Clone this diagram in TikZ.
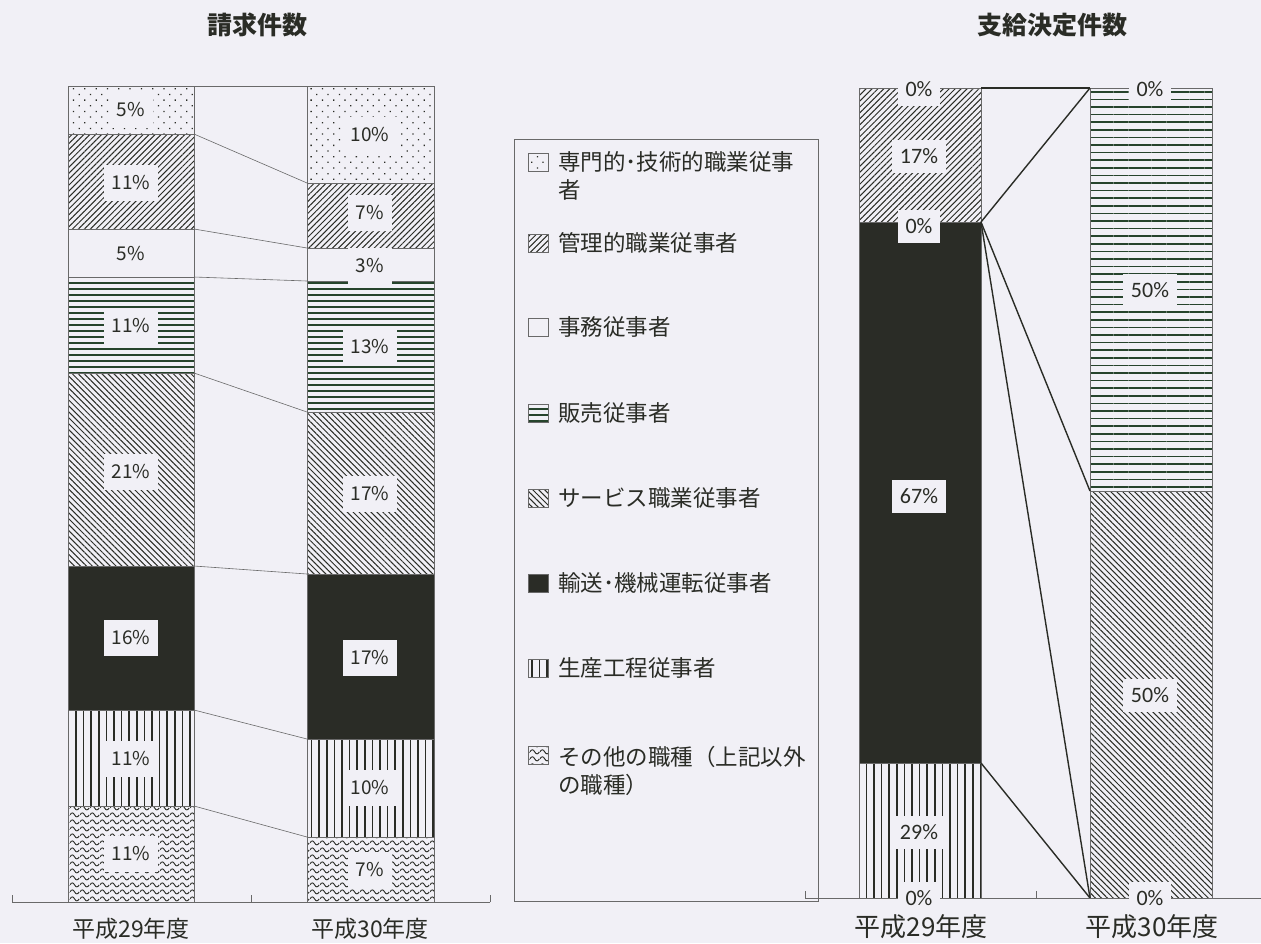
\documentclass[tikz,border=0pt]{standalone}
\usepackage{fontspec}
\setmainfont{Noto Sans CJK JP}
\newfontfamily\calib{Carlito}
\usepackage{xcolor}
\usepackage{tikz}
\usetikzlibrary{patterns, patterns.meta}

\definecolor{bgc}{RGB}{241,240,246}
\definecolor{ink}{RGB}{42,44,38}
\definecolor{hink}{RGB}{38,68,44}
\definecolor{rim}{RGB}{105,105,105}

% wavy fill for the last group
\pgfdeclarepatternformonly{waves}{\pgfqpoint{0pt}{0pt}}{\pgfqpoint{10pt}{7pt}}{\pgfqpoint{10pt}{7pt}}{%
  \pgfsetlinewidth{1pt}%
  \pgfpathmoveto{\pgfqpoint{0pt}{3.5pt}}%
  \pgfpathcurveto{\pgfqpoint{1.67pt}{6.5pt}}{\pgfqpoint{3.33pt}{6.5pt}}{\pgfqpoint{5pt}{3.5pt}}%
  \pgfpathcurveto{\pgfqpoint{6.67pt}{0.5pt}}{\pgfqpoint{8.33pt}{0.5pt}}{\pgfqpoint{10pt}{3.5pt}}%
  \pgfusepath{stroke}%
}

\tikzset{
  seg/.style={draw=rim, line width=0.8pt},
  dotfill/.style={pattern={Dots[radius=0.9pt, distance=8pt, angle=45]}, pattern color=ink},
  nefill/.style={pattern={Lines[angle=45, distance=4.2pt, line width=1pt]}, pattern color=ink},
  nwfill/.style={pattern={Lines[angle=-45, distance=4.2pt, line width=1pt]}, pattern color=ink},
  hfill/.style={pattern={Lines[angle=0, distance=6pt, line width=1.5pt]}, pattern color=hink},
  hfillr/.style={pattern={Lines[angle=0, distance=7.6pt, line width=1.6pt]}, pattern color=hink},
  vfill/.style={pattern={Lines[angle=90, distance=7.6pt, line width=1.6pt]}, pattern color=ink},
  wavefill/.style={pattern=waves, pattern color=ink},
  link/.style={draw=rim, line width=0.6pt},
  linkr/.style={draw=ink, line width=1.4pt},
  pct/.style={fill=bgc, text=ink, font=\fontsize{19}{19}\selectfont, minimum height=36pt, inner xsep=8pt, inner ysep=0pt},
  pctr/.style={fill=bgc, text=ink, font=\calib\fontsize{22}{22}\selectfont, minimum height=33pt, inner xsep=8pt, inner ysep=0pt},
  legtext/.style={anchor=west, inner sep=0pt, text=ink, align=left, font=\fontsize{22.5}{28}\selectfont},
  swatch/.style={seg, line width=0.6pt},
  title/.style={text=ink, font=\bfseries\fontsize{25}{25}\selectfont},
  year/.style={text=ink, font=\fontsize{23}{23}\selectfont},
  yearr/.style={text=ink, font=\fontsize{26}{26}\selectfont},
}

\begin{document}
\begin{tikzpicture}[x=1pt, y=-1pt]
  \fill[bgc] (0,0) rectangle (1261,943);
  \useasboundingbox (0,0) rectangle (1261,943);

  % Titles
  \node[title] (tclaim) at (257,25) {請求件数};
  \node[title] (tpaid) at (1052,25) {支給決定件数};

  % Claims, H29 bar
  \draw[seg, dotfill] (68,86) rectangle (194,134);
  \draw[seg, nefill] (68,134) rectangle (194,229);
  \draw[seg] (68,229) rectangle (194,277);
  \draw[seg, hfill] (68,277) rectangle (194,373);
  \draw[seg, nwfill] (68,373) rectangle (194,566);
  \draw[seg, fill=ink] (68,566) rectangle (194,710);
  \draw[seg, vfill] (68,710) rectangle (194,806);
  \draw[seg, wavefill] (68,806) rectangle (194,902);

  % Claims, H30 bar
  \draw[seg, dotfill] (307,86) rectangle (434,183);
  \draw[seg, nefill] (307,183) rectangle (434,248);
  \draw[seg] (307,248) rectangle (434,281);
  \draw[seg, hfill] (307,281) rectangle (434,412);
  \draw[seg, nwfill] (307,412) rectangle (434,574);
  \draw[seg, fill=ink] (307,574) rectangle (434,739);
  \draw[seg, vfill] (307,739) rectangle (434,837);
  \draw[seg, wavefill] (307,837) rectangle (434,902);

  % Claims, links between bars
  \foreach \ya/\yb [count=\i] in {86/86, 134/183, 229/248, 277/281, 373/412, 566/574, 710/739, 806/837} {
    \coordinate (ca\i) at (194,\ya);
    \coordinate (cb\i) at (307,\yb);
    \draw[link] (ca\i) -- (cb\i);
  }

  % Claims, axis
  \coordinate (cx0) at (12,902);
  \coordinate (cx1) at (251,902);
  \coordinate (cx2) at (490,902);
  \draw[link] (cx0) -- (cx2);
  \draw[link] (cx0) -- ++(0,-7);
  \draw[link] (cx1) -- ++(0,-7);
  \draw[link] (cx2) -- ++(0,-7);

  % Claims, labels
  \node[pct] (ca1l) at (131,110) {5\%};
  \node[pct] (ca2l) at (131,183) {11\%};
  \node[pct] (ca3l) at (131,254) {5\%};
  \node[pct] (ca4l) at (131,326) {11\%};
  \node[pct] (ca5l) at (131,472) {21\%};
  \node[pct] (ca6l) at (131,638) {16\%};
  \node[pct] (ca7l) at (131,759) {11\%};
  \node[pct] (ca8l) at (131,854) {11\%};
  \node[pct] (cb1l) at (370,135) {10\%};
  \node[pct] (cb2l) at (370,213) {7\%};
  \node[pct] (cb3l) at (370,266) {3\%};
  \node[pct] (cb4l) at (370,347) {13\%};
  \node[pct] (cb5l) at (370,494) {17\%};
  \node[pct] (cb6l) at (370,658) {17\%};
  \node[pct] (cb7l) at (370,788) {10\%};
  \node[pct] (cb8l) at (370,870) {7\%};
  \node[year] (cy29) at (131,929) {平成29年度};
  \node[year] (cy30) at (370,929) {平成30年度};

  % Legend
  \draw[seg, line width=0.6pt] (514,139) rectangle (818,901);
  \draw[swatch, dotfill] (528,153) rectangle (548,171);
  \draw[swatch, nefill] (528,234) rectangle (548,252);
  \draw[swatch] (528,318) rectangle (548,336);
  \draw[swatch, hfill] (528,404) rectangle (548,422);
  \draw[swatch, nwfill] (528,489) rectangle (548,507);
  \draw[swatch, fill=ink] (528,574) rectangle (548,592);
  \draw[swatch, vfill] (528,659) rectangle (548,677);
  \draw[swatch, wavefill] (528,746) rectangle (548,764);
  \node[legtext] (lg1) at (558,176) {専門的･技術的職業従事\\者};
  \node[legtext] (lg2) at (558,243) {管理的職業従事者};
  \node[legtext] (lg3) at (558,327) {事務従事者};
  \node[legtext] (lg4) at (558,413) {販売従事者};
  \node[legtext] (lg5) at (558,498) {サービス職業従事者};
  \node[legtext] (lg6) at (558,583) {輸送･機械運転従事者};
  \node[legtext] (lg7) at (558,668) {生産工程従事者};
  \node[legtext] (lg8) at (558,771) {その他の職種（上記以外\\の職種）};

  % Decisions, H29 bar
  \draw[seg, nefill] (859,88) rectangle (981,222);
  \draw[seg, fill=ink] (859,222) rectangle (981,763);
  \draw[seg, vfill] (859,763) rectangle (981,898);

  % Decisions, H30 bar
  \draw[seg, hfillr] (1090,88) rectangle (1212,491);
  \draw[seg, nwfill] (1090,491) rectangle (1212,898);

  % Decisions, links between bars
  \coordinate (da1) at (981,88);
  \coordinate (da2) at (981,222);
  \coordinate (da3) at (981,763);
  \coordinate (db1) at (1090,88);
  \coordinate (db2) at (1090,491);
  \coordinate (db3) at (1090,898);
  \draw[linkr] (da1) -- (db1);
  \draw[linkr] (da2) -- (db1);
  \draw[linkr] (da2) -- (db2);
  \draw[linkr] (da2) -- (db3);
  \draw[linkr] (da3) -- (db3);

  % Decisions, axis
  \coordinate (dx0) at (805,898);
  \coordinate (dx1) at (1036,898);
  \coordinate (dx2) at (1261,898);
  \draw[link, line width=1pt] (dx0) -- (dx2);
  \draw[link] (dx0) -- ++(0,-7);
  \draw[link] (dx1) -- ++(0,-7);

  % Decisions, labels
  \node[pctr] (da1l) at (919,89) {0\%};
  \node[pctr] (da2l) at (919,156) {17\%};
  \node[pctr] (da3l) at (919,226) {0\%};
  \node[pctr] (da4l) at (919,496) {67\%};
  \node[pctr] (da5l) at (919,832) {29\%};
  \node[pctr] (da6l) at (919,898) {0\%};
  \node[pctr] (db1l) at (1150,89) {0\%};
  \node[pctr] (db2l) at (1150,290) {50\%};
  \node[pctr] (db3l) at (1150,695) {50\%};
  \node[pctr] (db4l) at (1150,898) {0\%};
  \node[yearr] (dy29) at (921,927) {平成29年度};
  \node[yearr] (dy30) at (1152,927) {平成30年度};
\end{tikzpicture}
\end{document}
